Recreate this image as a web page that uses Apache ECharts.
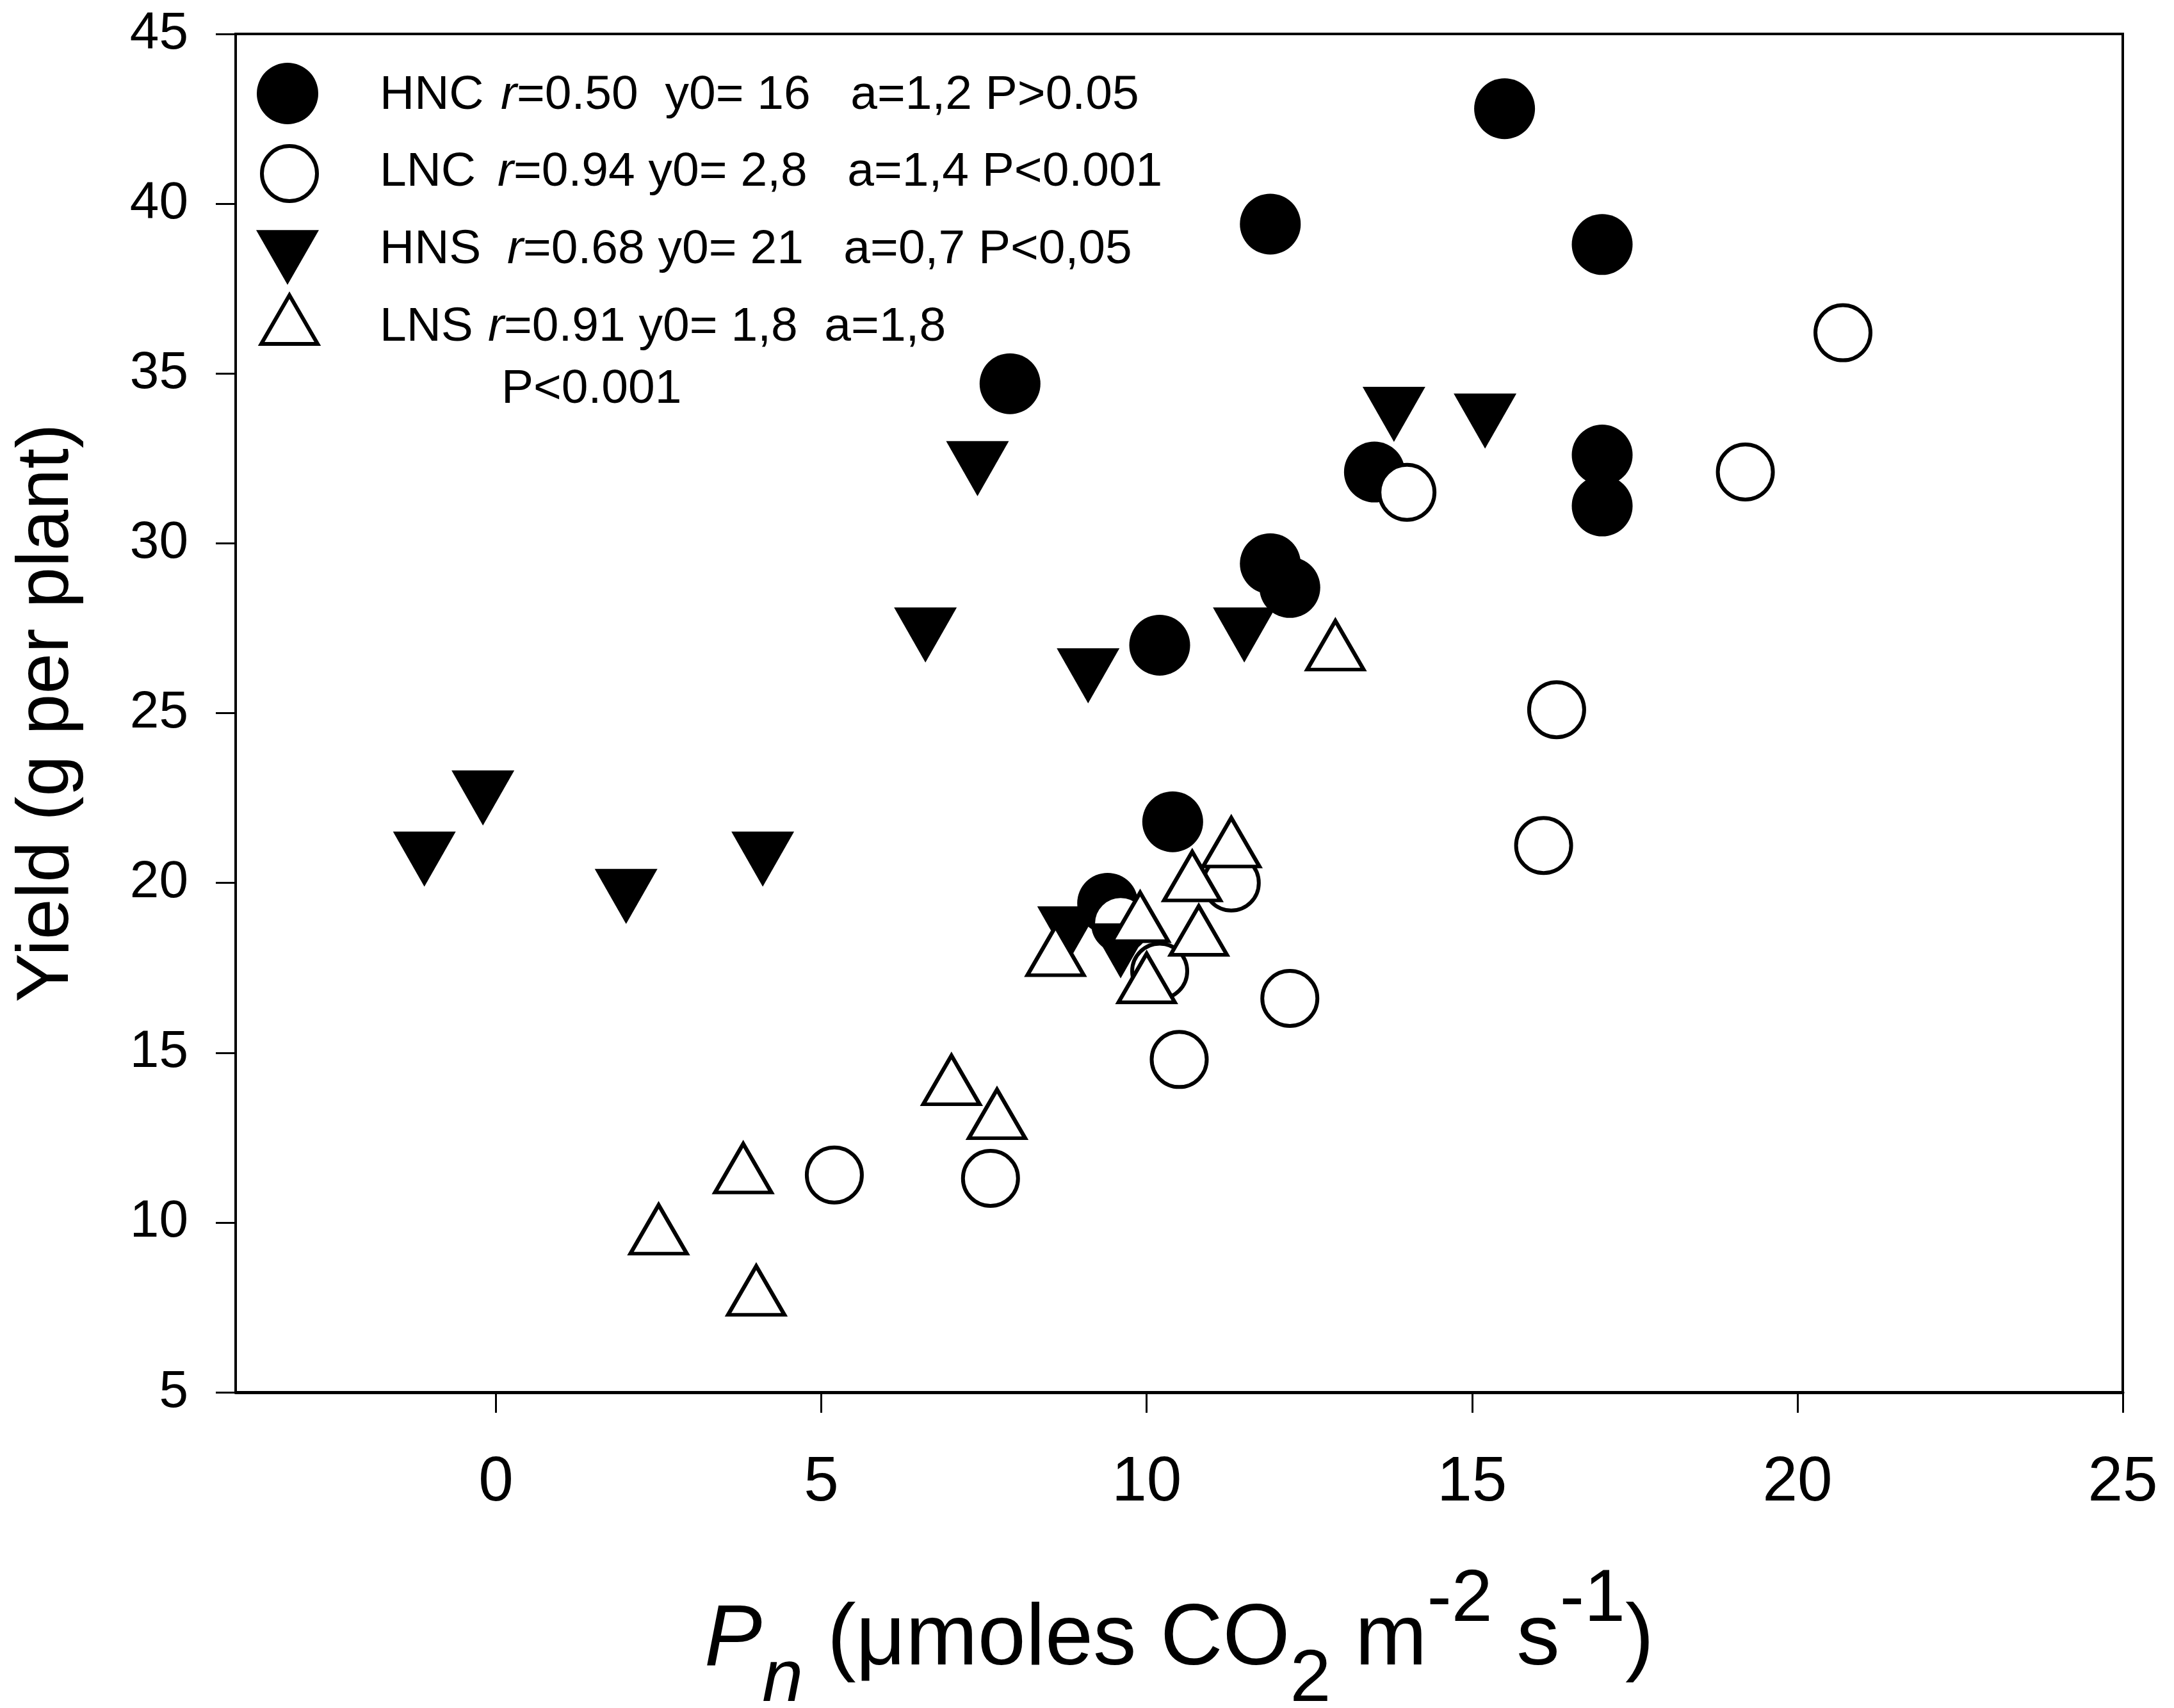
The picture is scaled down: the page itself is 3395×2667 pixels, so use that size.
<!DOCTYPE html>
<html>
<head>
<meta charset="utf-8">
<script src="https://cdn.jsdelivr.net/npm/echarts@6/dist/echarts.min.js"></script>
<style>
html,body{margin:0;padding:0;background:#fff;}
#chart{width:3395px;height:2667px;}
</style>
</head>
<body>
<div id="chart"></div>
<script>
// ---- data ----
const xTicks = [0, 5, 10, 15, 20, 25];
const yTicks = [5, 10, 15, 20, 25, 30, 35, 40, 45];

const hncX = [15.5, 11.9, 17.0, 7.9, 13.5, 17.0, 17.0, 11.9, 12.2, 10.2, 10.4, 9.4];
const hncY = [42.8, 39.4, 38.8, 34.7, 32.1, 32.6, 31.1, 29.4, 28.7, 27.0, 21.8, 19.4];

const lncX = [20.7, 14.0, 19.2, 16.3, 16.1, 11.3, 12.2, 10.5, 10.2, 9.6, 5.2, 7.6];
const lncY = [36.2, 31.5, 32.1, 25.1, 21.1, 20.0, 16.6, 14.8, 17.4, 18.8, 11.4, 11.3];

const hnsX = [13.8, 15.2, 7.4, 6.6, 9.1, 11.5, -0.2, -1.1, 2.0, 4.1, 8.8, 9.6];
const hnsY = [33.8, 33.6, 32.2, 27.3, 26.1, 27.3, 22.5, 20.7, 19.6, 20.7, 18.5, 18.0];

const lnsX = [12.9, 11.3, 10.7, 9.9, 10.8, 8.6, 10.0, 7.0, 7.7, 3.8, 2.5, 4.0];
const lnsY = [27.0, 21.2, 20.2, 19.0, 18.6, 18.0, 17.2, 14.2, 13.2, 11.6, 9.8, 8.0];

const seriesNames = ['HNC', 'LNC', 'HNS', 'LNS'];
const legendStats = [
  '=0.50  y0= 16   a=1,2 P>0.05',
  '=0.94 y0= 2,8   a=1,4 P<0.001',
  '=0.68 y0= 21   a=0,7 P<0,05',
  '=0.91 y0= 1,8  a=1,8'
];
const legendExtraLine = 'P<0.001';

// ---- helpers ----
const zip = (xs, ys) => xs.map((x, i) => [x, ys[i]]);
const FONT = '"Liberation Sans", Arial, Helvetica, sans-serif';
const LF = 75; // legend font size

const legendRich = {
  n1: {fontSize: LF, fontFamily: FONT, fill: '#000', color: '#000', width: 189},
  n2: {fontSize: LF, fontFamily: FONT, fill: '#000', color: '#000', width: 184},
  n3: {fontSize: LF, fontFamily: FONT, fill: '#000', color: '#000', width: 199},
  n4: {fontSize: LF, fontFamily: FONT, fill: '#000', color: '#000', width: 169},
  i: {fontSize: LF, fontFamily: FONT, fill: '#000', color: '#000', fontStyle: 'italic'},
  t: {fontSize: LF, fontFamily: FONT, fill: '#000', color: '#000'}
};
const nameTok = ['n1', 'n2', 'n3', 'n4'];
const textRowY = [149, 269, 390, 511];

function makeLegend(idx, icon, left, top, w, h, itemStyle) {
  return {
    data: [{name: seriesNames[idx], icon: icon}],
    left: left, top: top, orient: 'vertical', padding: 0,
    itemWidth: w, itemHeight: h, selectedMode: false,
    itemStyle: itemStyle,
    formatter: function () { return ''; },
    textStyle: {fontSize: 10, color: '#000'}
  };
}

function legendText(idx) {
  return {
    type: 'text', silent: true,
    style: {
      x: 593, y: textRowY[idx], align: 'left', verticalAlign: 'middle',
      text: '{' + nameTok[idx] + '|' + seriesNames[idx] + '}{i|r}{t|' + legendStats[idx] + '}',
      fontSize: LF, fontFamily: FONT, fill: '#000',
      rich: legendRich
    }
  };
}

const chart = echarts.init(document.getElementById('chart'), null, {renderer: 'canvas'});

const option = {
  animation: false,
  backgroundColor: '#fff',
  textStyle: {fontFamily: FONT},
  grid: {
    left: 368, right: 80, top: 53, bottom: 493,
    show: true, borderColor: '#000', borderWidth: 4, backgroundColor: 'transparent',
    outerBoundsMode: 'none'
  },
  xAxis: {
    type: 'value', min: -4, max: 25,
    axisLine: {show: true, onZero: false, lineStyle: {color: '#000', width: 5}},
    axisTick: {show: true, inside: false, length: 32, customValues: xTicks, lineStyle: {color: '#000', width: 3}},
    axisLabel: {show: true, customValues: xTicks, margin: 93, fontSize: 98, fontFamily: FONT, color: '#000'},
    splitLine: {show: false},
    name: '{pi|P}{ni|n}{t| (\u03bcmoles CO}{sb|2}{t| m}{sp|-2}{t| s}{sp|-1}{t|)}',
    nameLocation: 'middle',
    nameGap: 268,
    nameMoveOverlap: false,
    nameTextStyle: {
      color: '#000',
      rich: {
        t: {fontSize: 135, fontFamily: FONT, color: '#000', lineHeight: 240, verticalAlign: 'middle'},
        pi: {fontSize: 135, fontFamily: FONT, color: '#000', fontStyle: 'italic', lineHeight: 240, verticalAlign: 'middle'},
        ni: {fontSize: 115, fontFamily: FONT, color: '#000', fontStyle: 'italic', lineHeight: 176, verticalAlign: 'bottom'},
        sb: {fontSize: 115, fontFamily: FONT, color: '#000', lineHeight: 168, verticalAlign: 'bottom'},
        sp: {fontSize: 115, fontFamily: FONT, color: '#000', lineHeight: 138, verticalAlign: 'top'}
      }
    }
  },
  yAxis: {
    type: 'value', min: 5, max: 45, interval: 5,
    axisLine: {show: true, onZero: false, lineStyle: {color: '#000', width: 4}},
    axisTick: {show: true, inside: false, length: 31, lineStyle: {color: '#000', width: 3}},
    axisLabel: {show: true, margin: 74, fontSize: 82, fontFamily: FONT, color: '#000'},
    splitLine: {show: false},
    name: 'Yield (g per plant)',
    nameLocation: 'middle',
    nameRotate: 90,
    nameGap: 236,
    nameMoveOverlap: false,
    nameTextStyle: {fontSize: 115, fontFamily: FONT, color: '#000'}
  },
  legend: [
    makeLegend(0, 'circle', 401, 98, 96, 96, {color: '#000', borderWidth: 0}),
    makeLegend(1, 'circle', 406, 225, 86, 86, {color: '#fff', borderColor: '#000', borderWidth: 6}),
    makeLegend(2, 'path://M0,0L100,0L50,87Z', 400, 359, 98, 86, {color: '#000', borderWidth: 0}),
    makeLegend(3, 'triangle', 405, 458, 88, 76, {color: '#fff', borderColor: '#000', borderWidth: 6})
  ],
  graphic: [
    legendText(0), legendText(1), legendText(2), legendText(3),
    {
      type: 'text', silent: true,
      style: {x: 783, y: 608, align: 'left', verticalAlign: 'middle',
        text: legendExtraLine, fontSize: LF, fontFamily: FONT, fill: '#000'}
    }
  ],
  series: [
    {
      name: 'HNC', type: 'scatter', data: zip(hncX, hncY),
      symbol: 'circle', symbolSize: 95,
      itemStyle: {color: '#000', opacity: 1},
      emphasis: {disabled: true}
    },
    {
      name: 'LNC', type: 'scatter', data: zip(lncX, lncY),
      symbol: 'circle', symbolSize: 86,
      itemStyle: {color: '#fff', borderColor: '#000', borderWidth: 6, opacity: 1},
      emphasis: {disabled: true}
    },
    {
      name: 'HNS', type: 'scatter', data: zip(hnsX, hnsY),
      symbol: 'triangle', symbolRotate: 180, symbolSize: [98, 86],
      itemStyle: {color: '#000', opacity: 1},
      emphasis: {disabled: true}
    },
    {
      name: 'LNS', type: 'scatter', data: zip(lnsX, lnsY),
      symbol: 'triangle', symbolSize: [88, 76],
      itemStyle: {color: '#fff', borderColor: '#000', borderWidth: 6, opacity: 1},
      emphasis: {disabled: true}
    }
  ]
};

chart.setOption(option);
</script>
</body>
</html>
